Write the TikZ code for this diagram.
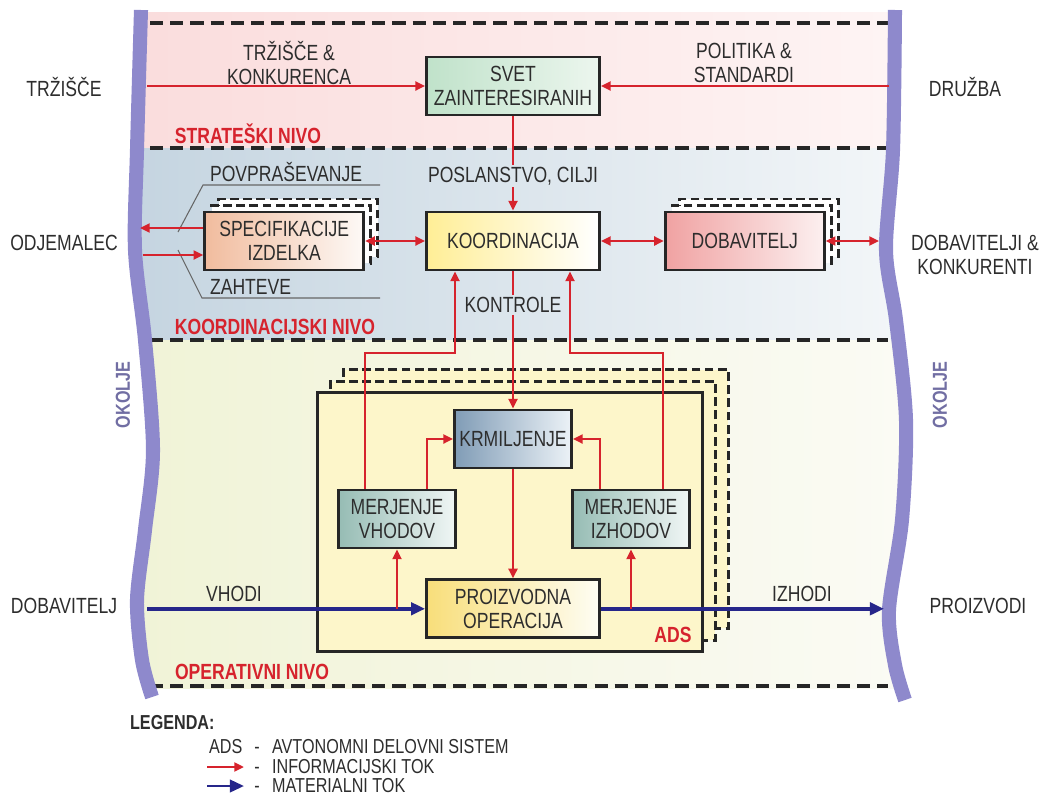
\documentclass[tikz,border=0pt]{standalone}
\usepackage{fontspec}
\setmainfont{Liberation Sans}[FakeStretch=0.8]
\usepackage{tikz}
\usetikzlibrary{arrows.meta,positioning,shadows}

\definecolor{infored}{RGB}{214,35,45}
\definecolor{matblue}{RGB}{38,38,138}
\definecolor{wallcol}{RGB}{142,137,204}
\definecolor{txtgray}{RGB}{45,45,45}
\definecolor{adsfill}{RGB}{253,246,202}

\tikzset{
  ms/txt/.style={text=txtgray, font=\fontsize{12.5}{14}\selectfont, align=center, inner sep=1pt},
  ms/box/.style={ms/txt, draw=black!85, line width=1.6pt, minimum width=3.46cm, minimum height=1.16cm},
  ms/midbox/.style={ms/box, minimum width=3.18cm},
  ms/smallbox/.style={ms/box, minimum width=2.34cm},
  ms/copy/.style={draw=black!85, line width=1.6pt, dash pattern=on 5pt off 2.5pt},
  ms/stack/.style={
    general shadow={ms/copy, fill=white, shadow xshift=0.28cm, shadow yshift=0.26cm},
    general shadow={ms/copy, fill=white, shadow xshift=0.14cm, shadow yshift=0.13cm}},
  ms/adsstack/.style={
    general shadow={ms/copy, fill=adsfill, shadow xshift=0.52cm, shadow yshift=0.46cm},
    general shadow={ms/copy, fill=adsfill, shadow xshift=0.26cm, shadow yshift=0.22cm}},
  ms/level/.style={font=\bfseries\fontsize{12.5}{14}\selectfont, text=infored, inner sep=1pt},
  ms/env/.style={font=\bfseries\fontsize{11.5}{13}\selectfont, text=wallcol!80!black, rotate=90, inner sep=1pt},
  ms/legend/.style={text=txtgray, font=\fontsize{11.5}{13}\selectfont, inner sep=1pt},
  ms/sep/.style={line width=2.3pt, black!85, dash pattern=on 7.5pt off 4pt},
  ms/wall/.style={line width=8pt, wallcol},
  ms/bracket/.style={draw=black!60, line width=0.6pt},
  ms/infoline/.style={draw=infored, line width=1.4pt},
  ms/info/.style={ms/infoline, -{Triangle[length=5.5pt,width=5pt]}},
  ms/infoboth/.style={ms/infoline, {Triangle[length=5.5pt,width=5pt]}-{Triangle[length=5.5pt,width=5pt]}},
  ms/mat/.style={draw=matblue, line width=2.2pt, -{Triangle[length=8pt,width=7pt]}}
}

\begin{document}
\begin{tikzpicture}[x=0.02cm, y=-0.02cm]
  \useasboundingbox (0,0) rectangle (1045,798);

  % levels between the two walls
  \begin{scope}
    \clip plot[smooth] coordinates {(141,8) (137,150) (135,250) (145,340) (153,450) (145,530) (137,600) (142,660) (152,697)}
      -- plot[smooth] coordinates {(905,700) (895,665) (889,610) (902,520) (906,420) (896,320) (886,250) (893,150) (895,8)} -- cycle;
    \shade[left color={rgb,255:red,250;green,220;blue,220}, right color={rgb,255:red,254;green,245;blue,245}] (120,12) rectangle (920,148);
    \shade[left color={rgb,255:red,196;green,212;blue,224}, right color={rgb,255:red,244;green,247;blue,249}] (120,148) rectangle (920,340);
    \shade[left color={rgb,255:red,240;green,243;blue,214}, right color={rgb,255:red,251;green,251;blue,245}] (120,340) rectangle (920,688);
  \end{scope}
  \foreach \y in {23,148,340,686}
    \draw[ms/sep] (150,\y) -- (888,\y);
  \draw[ms/wall] plot[smooth] coordinates {(141,10) (137,150) (135,250) (145,340) (153,450) (145,530) (137,600) (142,660) (152,697)};
  \draw[ms/wall] plot[smooth] coordinates {(895,10) (893,150) (886,250) (896,320) (906,420) (902,520) (889,610) (895,665) (905,700)};

  % environment
  \node[ms/txt] (trzisce) at (64,87) {TRŽIŠČE};
  \node[ms/txt] (druzba) at (965,87) {DRUŽBA};
  \node[ms/txt] (odjemalec) at (64,243) {ODJEMALEC};
  \node[ms/txt] (dobkonk) at (975,255) {DOBAVITELJI \&\\KONKURENTI};
  \node[ms/txt] (dobavitelj) at (64,606) {DOBAVITELJ};
  \node[ms/txt] (proizvodi) at (978,606) {PROIZVODI};
  \node[ms/env] (okoljeL) at (123,395) {OKOLJE};
  \node[ms/env] (okoljeR) at (940,395) {OKOLJE};

  % strateski nivo
  \node[ms/box, left color={rgb,255:red,192;green,226;blue,202}, right color={rgb,255:red,236;green,246;blue,238}] (svet) at (513,86) {SVET\\ZAINTERESIRANIH};
  \node[ms/txt] (trzkonk) at (289,63) {TRŽIŠČE \&\\KONKURENCA};
  \node[ms/txt] (polstd) at (744,63) {POLITIKA \&\\STANDARDI};
  \node[ms/level] (strat) at (248,134) {STRATEŠKI NIVO};
  \coordinate (trzIn) at (147,86);
  \coordinate (polIn) at (889,86);
  \draw[ms/info] (trzIn) -- (svet.west);
  \draw[ms/info] (polIn) -- (svet.east);

  % koordinacijski nivo
  \node[ms/box, left color={rgb,255:red,255;green,238;blue,150}, right color=white] (koord) at (513,241) {KOORDINACIJA};
  \node[ms/midbox, ms/stack, left=1.2cm of koord, left color={rgb,255:red,241;green,188;blue,158}, right color={rgb,255:red,253;green,249;blue,246}] (spec) {SPECIFIKACIJE\\IZDELKA};
  \node[ms/midbox, ms/stack, right=1.26cm of koord, left color={rgb,255:red,240;green,162;blue,162}, right color={rgb,255:red,252;green,240;blue,240}] (dob) {DOBAVITELJ};
  \node[ms/txt] (poslanstvo) at (513,176) {POSLANSTVO, CILJI};
  \node[ms/txt] (kontrole) at (513,305) {KONTROLE};
  \node[ms/txt, anchor=base west] (povpr) at (208,181) {POVPRAŠEVANJE};
  \node[ms/txt, anchor=base west] (zahteve) at (208,294) {ZAHTEVE};
  \node[ms/level] (koordniv) at (275,327) {KOORDINACIJSKI NIVO};
  \draw[ms/bracket] (178,232) -- (203,185) -- (380,185);
  \draw[ms/bracket] (178,250) -- (202,298) -- (380,298);
  \coordinate (odjOut) at (140,228);
  \coordinate (odjIn) at (143,255);
  \coordinate (dobOut) at (879,241);
  \draw[ms/infoline] (svet.south) -- (poslanstvo.north);
  \draw[ms/info] (poslanstvo.south) -- (koord.north);
  \draw[ms/info] (spec.west |- odjOut) -- (odjOut);
  \draw[ms/info] (odjIn) -- (spec.west |- odjIn);
  \draw[ms/infoboth] (spec.east) -- (koord.west);
  \draw[ms/infoboth] (koord.east) -- (dob.west);
  \draw[ms/infoboth] (dob.east) -- (dobOut);

  % operativni nivo
  \node[draw=black!85, line width=1.6pt, ms/adsstack, fill=adsfill, minimum width=7.7cm, minimum height=5.18cm] (ads) at (510,522) {};
  \node[ms/level] (adslbl) at (673,635) {ADS};
  \node[ms/smallbox, left color={rgb,255:red,128;green,156;blue,182}, right color={rgb,255:red,236;green,242;blue,247}] (krm) at (513,439) {KRMILJENJE};
  \node[ms/box, below=2.18cm of krm, left color={rgb,255:red,248;green,222;blue,122}, right color={rgb,255:red,254;green,253;blue,243}] (proiz) {PROIZVODNA\\OPERACIJA};
  \node[ms/smallbox, left color={rgb,255:red,150;green,188;blue,180}, right color={rgb,255:red,240;green,246;blue,245}] (mvh) at (397,519) {MERJENJE\\VHODOV};
  \node[ms/smallbox, left color={rgb,255:red,150;green,188;blue,180}, right color={rgb,255:red,240;green,246;blue,245}] (miz) at (631,519) {MERJENJE\\IZHODOV};
  \node[ms/txt] (vhodi) at (234,594) {VHODI};
  \node[ms/txt] (izhodi) at (802,594) {IZHODI};
  \node[ms/level] (operniv) at (252,672) {OPERATIVNI NIVO};
  \coordinate (jl) at (455,353);
  \coordinate (jr) at (570,353);
  \coordinate (matIn) at (147,606);
  \coordinate (matOut) at (884,606);
  \draw[ms/infoline] (kontrole.north) -- (koord.south);
  \draw[ms/info] (kontrole.south) -- (krm.north);
  \draw[ms/info] ([xshift=-0.64cm]mvh.north) |- (jl) -- (jl |- koord.south);
  \draw[ms/info] ([xshift=0.64cm]miz.north) |- (jr) -- (jr |- koord.south);
  \draw[ms/info] ([xshift=0.6cm]mvh.north) |- (krm.west);
  \draw[ms/info] ([xshift=-0.62cm]miz.north) |- (krm.east);
  \draw[ms/info] (krm.south) -- (proiz.north);
  \draw[ms/mat] (matIn |- proiz.west) -- (proiz.west);
  \draw[ms/mat] (proiz.east) -- (matOut |- proiz.east);
  \draw[ms/info] (mvh.south |- proiz.west) -- (mvh.south);
  \draw[ms/info] (miz.south |- proiz.east) -- (miz.south);

  % legenda
  \node[ms/legend, font=\bfseries\fontsize{11.5}{13}\selectfont, anchor=base west] (legenda) at (128,729) {LEGENDA:};
  \node[ms/legend, anchor=base west] (lgAds) at (207,753) {ADS};
  \node[ms/legend, anchor=base] (lgD1) at (257,753) {-};
  \node[ms/legend, anchor=base west] (lgT1) at (270,753) {AVTONOMNI DELOVNI SISTEM};
  \node[ms/legend, anchor=base] (lgD2) at (257,773) {-};
  \node[ms/legend, anchor=base west] (lgT2) at (270,773) {INFORMACIJSKI TOK};
  \node[ms/legend, anchor=base] (lgD3) at (257,792) {-};
  \node[ms/legend, anchor=base west] (lgT3) at (270,792) {MATERIALNI TOK};
  \coordinate (lgA1) at (207,767);
  \coordinate (lgA2) at (244,767);
  \coordinate (lgB1) at (207,786);
  \coordinate (lgB2) at (244,786);
  \draw[ms/info] (lgA1) -- (lgA2);
  \draw[ms/mat, line width=1.6pt] (lgB1) -- (lgB2);
\end{tikzpicture}
\end{document}
